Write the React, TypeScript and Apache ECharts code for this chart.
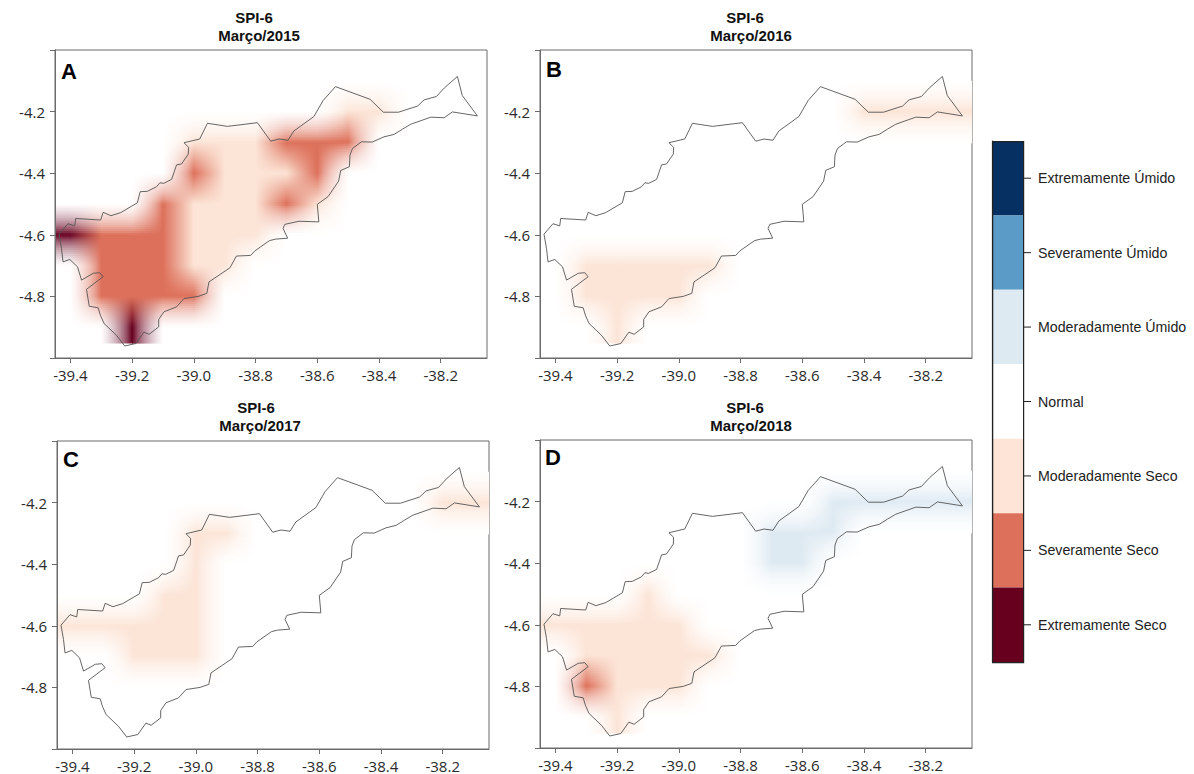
import React, { useEffect, useRef } from "react";
import * as echarts from "echarts";

const LON_NODES = [-39.4, -39.3, -39.2, -39.1, -39.0, -38.9, -38.8, -38.7, -38.6, -38.5, -38.4, -38.3, -38.2, -38.1];
const LAT_NODES = [-4.1, -4.2, -4.3, -4.4, -4.5, -4.6, -4.7, -4.8, -4.9];
const LON_EDGE = [-39.45, -38.05];
const LAT_EDGE = [-4.05, -4.95];

// SPI class at every grid node: 3 extreme dry, 2 severe dry, 1 moderate dry, 0 normal, -1 moderate wet
const spiA = [
  [0, 0, 0, 0, 0, 0, 0, 0, 0, 0, 0, 0, 0, 0],
  [0, 0, 0, 0, 0, 0, 0, 0, 0, 1, 1, 0, 0, 0],
  [0, 0, 0, 0, 1, 1, 1, 2, 2, 2, 0, 0, 0, 0],
  [0, 0, 0, 0, 2, 1, 1, 1, 2, 0, 0, 0, 0, 0],
  [0, 0, 0, 2, 1, 1, 1, 2, 1, 0, 0, 0, 0, 0],
  [3, 2, 2, 2, 1, 1, 1, 0, 0, 0, 0, 0, 0, 0],
  [0, 2, 2, 2, 1, 1, 0, 0, 0, 0, 0, 0, 0, 0],
  [0, 2, 2, 2, 2, 0, 0, 0, 0, 0, 0, 0, 0, 0],
  [0, 0, 3, 0, 0, 0, 0, 0, 0, 0, 0, 0, 0, 0],
];
const spiB = [
  [0, 0, 0, 0, 0, 0, 0, 0, 0, 0, 0, 0, 0, 0],
  [0, 0, 0, 0, 0, 0, 0, 0, 0, 0, 1, 1, 1, 1],
  [0, 0, 0, 0, 0, 0, 0, 0, 0, 0, 0, 0, 0, 0],
  [0, 0, 0, 0, 0, 0, 0, 0, 0, 0, 0, 0, 0, 0],
  [0, 0, 0, 0, 0, 0, 0, 0, 0, 0, 0, 0, 0, 0],
  [0, 0, 0, 0, 0, 0, 0, 0, 0, 0, 0, 0, 0, 0],
  [0, 1, 1, 1, 1, 1, 0, 0, 0, 0, 0, 0, 0, 0],
  [0, 1, 1, 1, 1, 0, 0, 0, 0, 0, 0, 0, 0, 0],
  [0, 0, 1, 0, 0, 0, 0, 0, 0, 0, 0, 0, 0, 0],
];
const spiC = [
  [0, 0, 0, 0, 0, 0, 0, 0, 0, 0, 0, 0, 0, 0],
  [0, 0, 0, 0, 0, 0, 0, 0, 0, 0, 0, 0, 1, 1],
  [0, 0, 0, 0, 1, 1, 0, 0, 0, 0, 0, 0, 0, 0],
  [0, 0, 0, 0, 1, 0, 0, 0, 0, 0, 0, 0, 0, 0],
  [0, 0, 0, 1, 1, 0, 0, 0, 0, 0, 0, 0, 0, 0],
  [1, 1, 1, 1, 1, 0, 0, 0, 0, 0, 0, 0, 0, 0],
  [0, 0, 1, 1, 1, 0, 0, 0, 0, 0, 0, 0, 0, 0],
  [0, 0, 0, 0, 0, 0, 0, 0, 0, 0, 0, 0, 0, 0],
  [0, 0, 0, 0, 0, 0, 0, 0, 0, 0, 0, 0, 0, 0],
];
const spiD = [
  [0, 0, 0, 0, 0, 0, 0, 0, 0, 0, 0, 0, 0, 0],
  [0, 0, 0, 0, 0, 0, 0, 0, 0, -1, -1, -1, -1, -1],
  [0, 0, 0, 0, 0, 0, 0, -1, -1, -1, 0, 0, 0, 0],
  [0, 0, 0, 0, 0, 0, 0, -1, -1, 0, 0, 0, 0, 0],
  [0, 0, 0, 1, 0, 0, 0, 0, 0, 0, 0, 0, 0, 0],
  [1, 1, 1, 1, 1, 0, 0, 0, 0, 0, 0, 0, 0, 0],
  [0, 1, 1, 1, 1, 1, 0, 0, 0, 0, 0, 0, 0, 0],
  [0, 2, 1, 1, 1, 0, 0, 0, 0, 0, 0, 0, 0, 0],
  [0, 0, 1, 0, 0, 0, 0, 0, 0, 0, 0, 0, 0, 0],
];

const outlineLon = [
  -39.437, -39.408, -39.386, -39.383, -39.302, -39.294, -39.269, -39.237, -39.183, -39.174, -39.151, -39.121, -39.11,
  -39.098, -39.072, -39.056, -39.04, -39.018, -39.017, -39.032, -38.981, -38.956, -38.891, -38.794, -38.751, -38.724,
  -38.695, -38.676, -38.611, -38.581, -38.541, -38.429, -38.386, -38.337, -38.275, -38.254, -38.214, -38.187, -38.146,
  -38.13, -38.081, -38.162, -38.189, -38.232, -38.297, -38.324, -38.351, -38.384, -38.422, -38.457, -38.486, -38.494,
  -38.496, -38.524, -38.531, -38.565, -38.6, -38.595, -38.659, -38.705, -38.711, -38.696, -38.735, -38.755, -38.802,
  -38.816, -38.862, -38.883, -38.951, -38.958, -38.986, -39.032, -39.056, -39.097, -39.114, -39.114, -39.145, -39.162,
  -39.188, -39.224, -39.251, -39.291, -39.303, -39.31, -39.339, -39.348, -39.294, -39.305, -39.326, -39.364, -39.377,
  -39.402, -39.424, -39.429, -39.437,
];
const outlineLat = [
  -4.598, -4.564, -4.571, -4.547, -4.552, -4.527, -4.538, -4.528, -4.496, -4.46, -4.459, -4.444, -4.431, -4.433, -4.42,
  -4.373, -4.37, -4.338, -4.316, -4.301, -4.289, -4.238, -4.248, -4.236, -4.296, -4.289, -4.293, -4.263, -4.216, -4.164,
  -4.119, -4.16, -4.202, -4.202, -4.182, -4.162, -4.151, -4.122, -4.086, -4.148, -4.214, -4.201, -4.22, -4.218, -4.241,
  -4.257, -4.274, -4.282, -4.299, -4.298, -4.32, -4.341, -4.379, -4.391, -4.426, -4.476, -4.501, -4.558, -4.556, -4.566,
  -4.579, -4.611, -4.614, -4.619, -4.652, -4.667, -4.669, -4.707, -4.753, -4.79, -4.8, -4.807, -4.834, -4.85, -4.875,
  -4.899, -4.923, -4.916, -4.953, -4.961, -4.926, -4.888, -4.861, -4.837, -4.832, -4.777, -4.736, -4.723, -4.725, -4.747,
  -4.704, -4.68, -4.688, -4.644, -4.598,
];

const xTicks = [-39.4, -39.2, -39.0, -38.8, -38.6, -38.4, -38.2];
const yTickLabels = [-4.2, -4.4, -4.6, -4.8];
const yTicks = [-5.0, -4.8, -4.6, -4.4, -4.2, -4.0];
const legendLabels = [
  "Extremamente Úmido",
  "Severamente Úmido",
  "Moderadamente Úmido",
  "Normal",
  "Moderadamente Seco",
  "Severamente Seco",
  "Extremamente Seco",
];
const legendColors = ["#053061", "#5A9BC8", "#DEEAF2", "#FFFFFF", "#FDE4D6", "#DD705A", "#67001F"];
const classRgb: Record<number, number[]> = {
  3: [103, 0, 31],
  2: [221, 112, 90],
  1: [252, 228, 214],
  0: [255, 255, 255],
  [-1]: [222, 234, 242],
};

const panels = [
  { letter: "A", period: "Março/2015", spi: spiA, left: 55, top: 50, titleX: 259, spiX: 254, titleY: 10, letterX: 61, letterY: 60 },
  { letter: "B", period: "Março/2016", spi: spiB, left: 540, top: 50, titleX: 751, spiX: 745, titleY: 10, letterX: 546, letterY: 58 },
  { letter: "C", period: "Março/2017", spi: spiC, left: 57, top: 441, titleX: 260, spiX: 256, titleY: 400, letterX: 63, letterY: 448 },
  { letter: "D", period: "Março/2018", spi: spiD, left: 540, top: 440, titleX: 751, spiX: 745, titleY: 400, letterX: 545, letterY: 446 },
];

function patchesOf(spi: number[][]) {
  const lons = [LON_EDGE[0], ...LON_NODES, LON_EDGE[1]];
  const lats = [LAT_EDGE[0], ...LAT_NODES, LAT_EDGE[1]];
  const at = (r: number, c: number) =>
    spi[Math.min(spi.length - 1, Math.max(0, r - 1))][Math.min(LON_NODES.length - 1, Math.max(0, c - 1))];
  const out: number[][] = [];
  for (let r = 0; r < lats.length - 1; r++) {
    for (let c = 0; c < lons.length - 1; c++) {
      const a = at(r, c), b = at(r, c + 1), d = at(r + 1, c), e = at(r + 1, c + 1);
      if (a === 0 && b === 0 && d === 0 && e === 0) continue;
      out.push([lons[c], lats[r], lons[c + 1], lats[r + 1], a, b, d, e]);
    }
  }
  return out;
}

const WHITE_WEIGHT = 2;
function blend(classes: number[], u: number, v: number) {
  const w = [(1 - u) * (1 - v), u * (1 - v), (1 - u) * v, u * v].map((x, i) => (classes[i] === 0 ? x * WHITE_WEIGHT : x));
  const sum = w[0] + w[1] + w[2] + w[3];
  const rgb = [0, 1, 2].map((ch) => w.reduce((acc, x, i) => acc + x * classRgb[classes[i]][ch], 0) / sum);
  return `rgb(${Math.round(rgb[0])},${Math.round(rgb[1])},${Math.round(rgb[2])})`;
}

const STOPS = [0, 0.2, 0.4, 0.6, 0.8, 1];

function renderPatch(_: any, api: any) {
  const p0 = api.coord([api.value(0), api.value(1)]);
  const p1 = api.coord([api.value(2), api.value(3)]);
  const classes = [api.value(4), api.value(5), api.value(6), api.value(7)];
  const h = p1[1] - p0[1];
  const w = p1[0] - p0[0];
  const uniform = classes.every((c) => c === classes[0]);
  if (uniform) {
    return { type: "rect", shape: { x: p0[0], y: p0[1], width: w + 1, height: h + 1 }, style: { fill: blend(classes, 0, 0) } };
  }
  const rows = Math.max(3, Math.ceil(h / 2));
  const children: any[] = [];
  for (let k = 0; k < rows; k++) {
    const v = (k + 0.5) / rows;
    const stops = STOPS.map((u) => ({ offset: u, color: blend(classes, u, v) }));
    children.push({
      type: "rect",
      shape: { x: p0[0], y: p0[1] + (h * k) / rows, width: w + 1, height: h / rows + 1 },
      style: { fill: new echarts.graphic.LinearGradient(0, 0, w / (w + 1), 0, stops) },
    });
  }
  return { type: "group", children };
}

function renderLegendTick(_: any, api: any) {
  const p = api.coord([api.value(0), api.value(1)]);
  return {
    type: "line",
    shape: { x1: p[0], y1: p[1], x2: p[0] + 8, y2: p[1] },
    style: { stroke: "#222", lineWidth: 1 },
  };
}

const FRAME = "#6b6b6b";
const TICK_TEXT = { color: "#2a2a2a", fontFamily: "Open Sans", fontSize: 15 };

function buildOption() {
  const grids: any[] = [], xAxes: any[] = [], yAxes: any[] = [], series: any[] = [], titles: any[] = [], letters: any[] = [];
  const outline = outlineLon.map((v, i) => [v, outlineLat[i]]);
  panels.forEach((p, i) => {
    grids.push({ left: p.left, top: p.top, width: 432, height: 308, show: true, borderColor: FRAME, borderWidth: 1, backgroundColor: "#fff" });
    xAxes.push({
      type: "value", gridIndex: i, min: -39.45, max: -38.05, z: 5, splitLine: { show: false },
      axisLine: { onZero: false, lineStyle: { color: FRAME } },
      axisTick: { show: true, length: 5, lineStyle: { color: FRAME }, customValues: xTicks },
      axisLabel: { ...TICK_TEXT, margin: 9, customValues: xTicks, formatter: (v: number) => v.toFixed(1) },
    });
    yAxes.push({
      type: "value", gridIndex: i, min: -5, max: -4, z: 5, splitLine: { show: false },
      axisLine: { onZero: false, lineStyle: { color: FRAME } },
      axisTick: { show: true, length: 5, lineStyle: { color: FRAME }, customValues: yTicks },
      axisLabel: { ...TICK_TEXT, margin: 10, customValues: yTickLabels, formatter: (v: number) => v.toFixed(1) },
    });
    series.push({
      type: "custom", name: `SPI-6 ${p.period}`, xAxisIndex: i, yAxisIndex: i, coordinateSystem: "cartesian2d", clip: true, silent: true,
      renderItem: renderPatch, encode: { x: [0, 2], y: [1, 3] }, data: patchesOf(p.spi), z: 2,
    });
    series.push({
      type: "line", name: `Contorno ${p.letter}`, xAxisIndex: i, yAxisIndex: i, data: outline, showSymbol: false, symbol: "none", silent: true,
      lineStyle: { color: "#555", width: 0.9 }, z: 4,
    });
    const tt = { fontFamily: "Liberation Sans", fontWeight: "bold", fontSize: 15, color: "#111" };
    titles.push({ text: "SPI-6", left: p.spiX, top: p.titleY, textAlign: "center", padding: 0, textStyle: tt });
    titles.push({ text: p.period, left: p.titleX, top: p.titleY + 18, textAlign: "center", padding: 0, textStyle: tt });
    letters.push({ type: "text", left: p.letterX, top: p.letterY, style: { text: p.letter, fontFamily: "Liberation Sans", fontWeight: "bold", fontSize: 22, fill: "#000" } });
  });
  const li = panels.length;
  grids.push({ left: 992, top: 141, width: 31, height: 521 });
  xAxes.push({ type: "value", gridIndex: li, min: 0, max: 1, show: false });
  yAxes.push({
    type: "category", gridIndex: li, data: legendLabels, inverse: true, position: "right", z: 5,
    axisLine: { show: true, lineStyle: { color: "#222", width: 1.2 } },
    axisTick: { show: false },
    axisLabel: { color: "#222", fontFamily: "Liberation Sans", fontSize: 14.2, margin: 15, interval: 0 },
    splitLine: { show: false },
  });
  series.push({
    type: "bar", name: "Legenda", xAxisIndex: li, yAxisIndex: li, barWidth: "100%", silent: true, z: 2,
    data: legendColors.map((c) => ({ value: 1, itemStyle: { color: c } })),
  });
  series.push({
    type: "custom", name: "Marcas da legenda", xAxisIndex: li, yAxisIndex: li, coordinateSystem: "cartesian2d", clip: false, silent: true, z: 6,
    renderItem: renderLegendTick, encode: { x: 0, y: 1 }, data: legendLabels.map((_, i) => [1, i]),
  });
  letters.push({ type: "rect", left: 992, top: 141, z: 10, shape: { width: 31, height: 521 }, style: { fill: "transparent", stroke: "#222", lineWidth: 1.2 } });
  return {
    animation: false, backgroundColor: "#fff", title: titles, grid: grids, xAxis: xAxes, yAxis: yAxes, series, graphic: letters,
  };
}

export default function App() {
  const ref = useRef<HTMLDivElement>(null);
  useEffect(() => {
    const chart = echarts.init(ref.current!, undefined, { renderer: "svg" });
    chart.setOption(buildOption() as any);
    return () => chart.dispose();
  }, []);
  return <div ref={ref} style={{ position: "absolute", left: 0, top: 0, width: 1194, height: 774 }} />;
}
